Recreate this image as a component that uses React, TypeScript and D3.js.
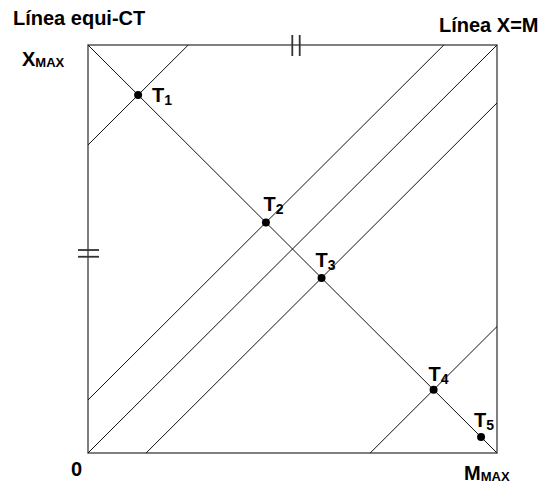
import React from "react";
import * as d3 from "d3";

// Points on the equi-CT line (X = 1 - M), given by their M coordinate (0..1)
const pointNames = ["1", "2", "3", "4", "5"];
const pointM = [0.1225, 0.435, 0.571, 0.845, 0.961];

// Lines parallel to X = M, given by their offset c (X = M + c)
const lineOffsets = [0.755, 0.13, 0, -0.142, -0.69];

// Axis break marks (position along axis, in data units)
const topBreaks = [0.4995, 0.5176];
const leftBreaks = [0.4975, 0.481];

// Label offsets (pixels) for each point label, relative to the point
const labelDX = [14, -2.5, -6, -5, -7];
const labelDY = [7, -11, -11, -9, -10];

const W = 542;
const H = 487;

export default function App() {
  const x = d3.scaleLinear().domain([0, 1]).range([88, 497]);
  const y = d3.scaleLinear().domain([0, 1]).range([453, 45]);
  const font = "'Liberation Sans', Arial, Helvetica, sans-serif";

  const segs = lineOffsets.map((c) =>
    c >= 0
      ? { x1: x(0), y1: y(c), x2: x(1 - c), y2: y(1) }
      : { x1: x(-c), y1: y(0), x2: x(1), y2: y(1 + c) }
  );

  return (
    <svg
      width={W}
      height={H}
      style={{ position: "absolute", left: 0, top: 0, background: "#fff" }}
      fontFamily={font}
      fontWeight="bold"
    >
      <rect x={0} y={0} width={W} height={H} fill="#fff" />
      {/* frame */}
      <rect
        x={x(0)}
        y={y(1)}
        width={x(1) - x(0)}
        height={y(0) - y(1)}
        fill="none"
        stroke="#555"
        strokeWidth={1.5}
      />
      {/* equi-CT line */}
      <line x1={x(0)} y1={y(1)} x2={x(1)} y2={y(0)} stroke="#111" strokeWidth={1} />
      {/* diagonal lines */}
      {segs.map((s, i) => (
        <line key={i} {...s} stroke="#111" strokeWidth={1} />
      ))}
      {/* break marks */}
      {topBreaks.map((b, i) => (
        <line key={"t" + i} x1={x(b)} x2={x(b)} y1={y(1) - 10} y2={y(1) + 11} stroke="#333" strokeWidth={1.8} />
      ))}
      {leftBreaks.map((b, i) => (
        <line key={"l" + i} x1={x(0) - 10} x2={x(0) + 11} y1={y(b)} y2={y(b)} stroke="#333" strokeWidth={1.8} />
      ))}
      {/* points */}
      {pointM.map((m, i) => (
        <g key={"p" + i}>
          <circle cx={x(m)} cy={y(1 - m)} r={4} fill="#000" />
          <text x={x(m) + labelDX[i]} y={y(1 - m) + labelDY[i]} fontSize={20} fill="#000">
            T
            <tspan fontSize={14} dy={3}>{pointNames[i]}</tspan>
          </text>
        </g>
      ))}
      {/* titles */}
      <text x={13} y={25} fontSize={20} fill="#000">Línea equi-CT</text>
      <text x={439} y={32} fontSize={20} fill="#000">Línea X=M</text>
      <text x={22} y={66} fontSize={20} fill="#000">
        X<tspan fontSize={13} dy={1}>MAX</tspan>
      </text>
      <text x={464} y={480} fontSize={20} fill="#000">
        M<tspan fontSize={13} dy={1}>MAX</tspan>
      </text>
      <text x={71} y={476} fontSize={20} fill="#000">0</text>
    </svg>
  );
}
